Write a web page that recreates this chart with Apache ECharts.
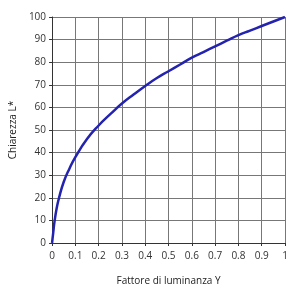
<!DOCTYPE html>
<html><head><meta charset="utf-8">
<script src="https://cdn.jsdelivr.net/npm/echarts@6/dist/echarts.min.js"></script>
<style>html,body{margin:0;padding:0;background:#fff}#c{width:300px;height:295px}</style>
</head><body><div id="c"></div>
<script>
const yValues = [0, 0.002, 0.005, 0.01, 0.02, 0.03, 0.05, 0.075, 0.1, 0.15, 0.2, 0.25, 0.3, 0.35, 0.4, 0.45, 0.5, 0.55, 0.6, 0.65, 0.7, 0.75, 0.8, 0.85, 0.9, 0.95, 1];
const lightness = [0, 1.8, 4.5, 9, 15.5, 20, 27, 33, 38, 46, 52, 57, 61.7, 65.7, 69.5, 73, 76, 79, 82, 84.5, 87, 89.5, 92, 94, 96, 98, 100];
const xTicks = ['0','0.1','0.2','0.3','0.4','0.5','0.6','0.7','0.8','0.9','1'];
const chart = echarts.init(document.getElementById('c'));
const font = 'Open Sans';
chart.setOption({
  animation: false,
  grid: {left: 49, right: 15, top: 17, bottom: 52},
  xAxis: {
    type: 'value', min: 0, max: 1, interval: 0.1,
    name: 'Fattore di luminanza Y', nameLocation: 'middle', nameGap: 33,
    nameTextStyle: {fontFamily: font, fontSize: 10, color: '#222'},
    axisLine: {lineStyle: {color: '#333', width: 1}},
    axisTick: {show: true, length: 3, lineStyle: {color: '#333'}},
    axisLabel: {fontFamily: font, fontSize: 10, color: '#333', margin: 8,
      formatter: v => xTicks[Math.round(v * 10)]},
    splitLine: {show: true, lineStyle: {color: '#777', width: 1}}
  },
  yAxis: {
    type: 'value', min: 0, max: 100, interval: 10,
    name: 'Chiarezza L*', nameLocation: 'middle', nameGap: 31,
    nameTextStyle: {fontFamily: font, fontSize: 10, color: '#222'},
    axisLine: {show: true, lineStyle: {color: '#333', width: 1}},
    axisTick: {show: true, length: 3, lineStyle: {color: '#333'}},
    axisLabel: {fontFamily: font, fontSize: 10, color: '#333', margin: 6},
    splitLine: {show: true, lineStyle: {color: '#777', width: 1}}
  },
  series: [{
    type: 'line', smooth: 0.5, showSymbol: false,
    data: yValues.map((x, i) => [x, lightness[i]]),
    lineStyle: {color: '#2323b0', width: 2.5}
  }]
});
</script></body></html>
